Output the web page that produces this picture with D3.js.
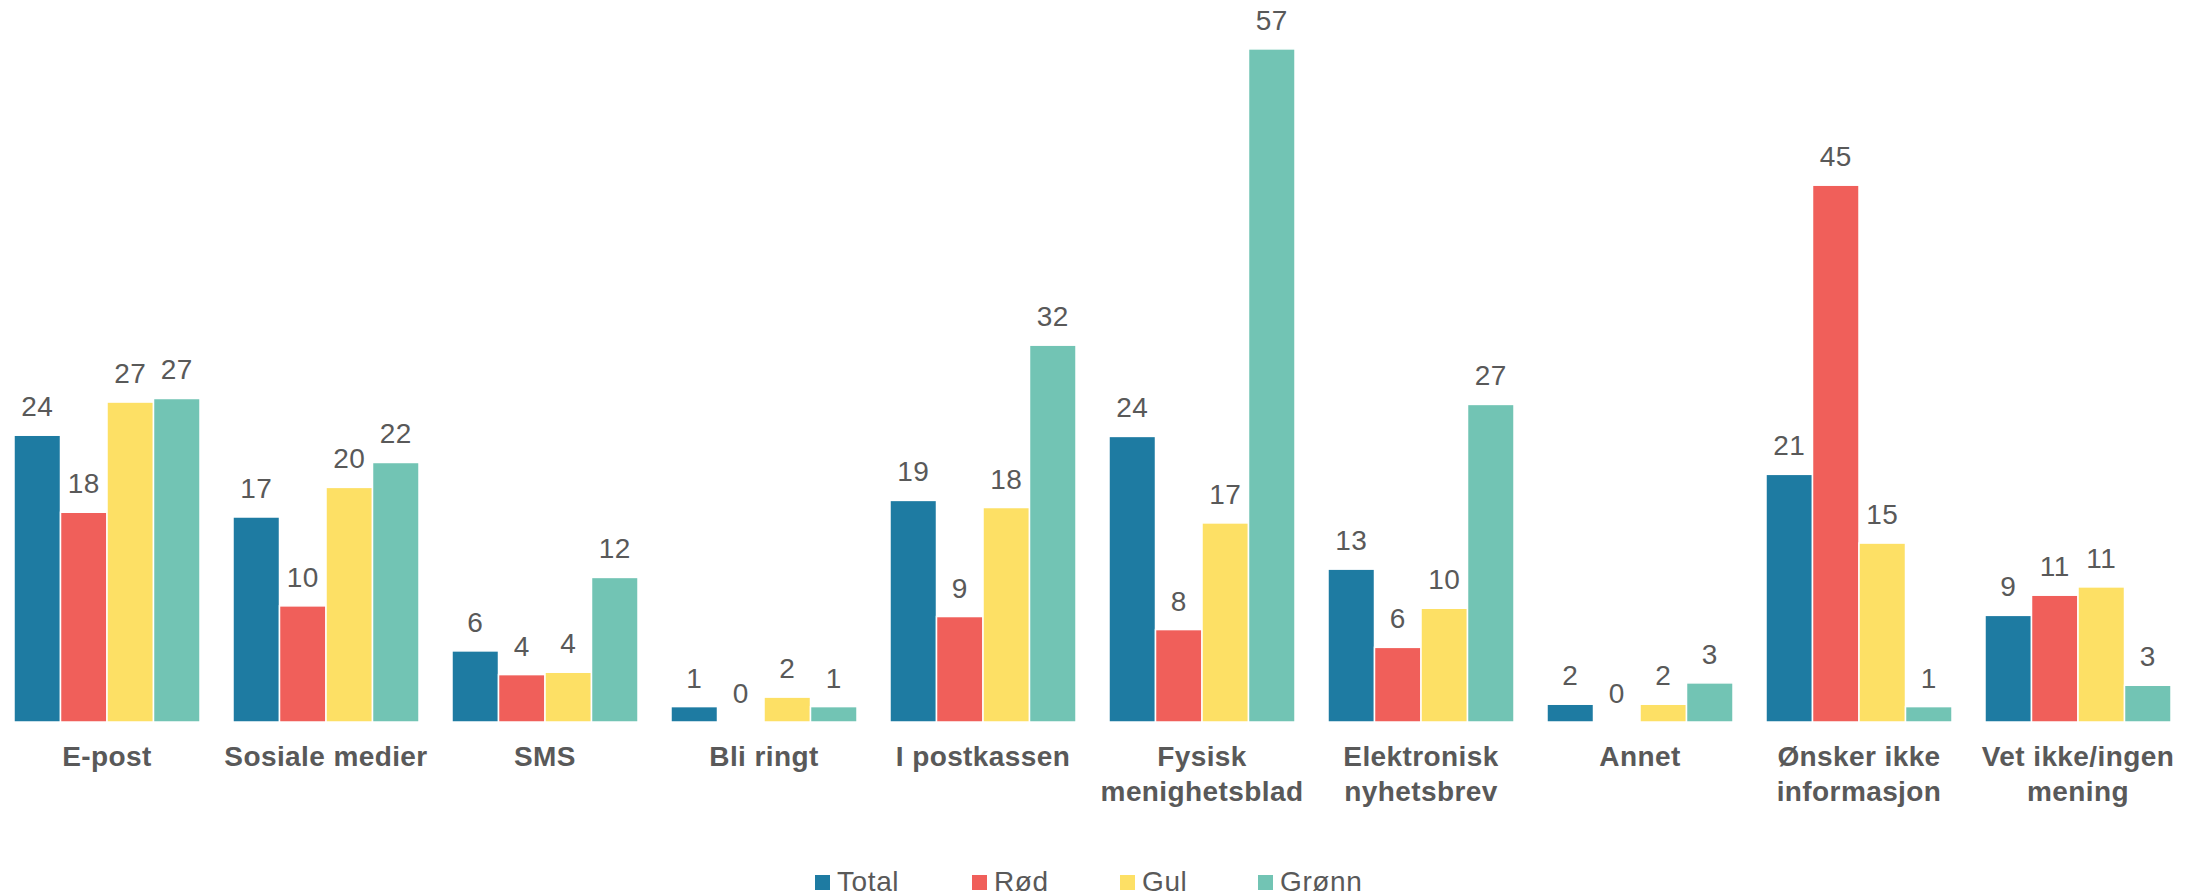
<!DOCTYPE html>
<html>
<head>
<meta charset="utf-8">
<script src="https://cdn.jsdelivr.net/npm/d3@7"></script>
<style>
  html, body { margin: 0; padding: 0; background: #fff; }
  svg { display: block; }
</style>
</head>
<body>
<svg id="chart" width="2203" height="896"></svg>
<script>
const categories = [
  ["E-post"],
  ["Sosiale medier"],
  ["SMS"],
  ["Bli ringt"],
  ["I postkassen"],
  ["Fysisk", "menighetsblad"],
  ["Elektronisk", "nyhetsbrev"],
  ["Annet"],
  ["Ønsker ikke", "informasjon"],
  ["Vet ikke/ingen", "mening"]
];
const seriesNames = ["Total", "Rød", "Gul", "Grønn"];
// values (percent); labels show them rounded
const total = [24.2, 17.3, 6.0, 1.3, 18.7, 24.1, 12.9, 1.5, 20.9, 9.0];
const rod   = [17.7, 9.8, 4.0, 0, 8.9, 7.8, 6.3, 0, 45.3, 10.7];
const gul   = [27.0, 19.8, 4.2, 2.1, 18.1, 16.8, 9.6, 1.5, 15.1, 11.4];
const gronn = [27.3, 21.9, 12.2, 1.3, 31.8, 56.8, 26.8, 3.3, 1.3, 3.1];
const colors = ["#1e7ba2", "#f05f5a", "#fde065", "#72c4b4"];

const series = [total, rod, gul, gronn];
const catKeys = categories.map(c => c.join(" "));

const svg = d3.select("#chart");
const baseline = 722;
const maxVal = 57;
const fontFam = "'Liberation Sans', Arial, sans-serif";

const x0 = d3.scaleBand()
  .domain(catKeys)
  .range([-2.5, 2187.5])
  .paddingInner(33 / 219)
  .paddingOuter(33 / 219 / 2);

const x1 = d3.scaleBand()
  .domain(seriesNames)
  .range([0, x0.bandwidth()])
  .padding(0);

const y = d3.scaleLinear()
  .domain([0, maxVal])
  .range([baseline, baseline - maxVal * 11.85]);

const data = [];
catKeys.forEach((c, i) => {
  seriesNames.forEach((s, j) => {
    data.push({ cat: c, s: s, v: series[j][i], color: colors[j] });
  });
});

const g = svg.append("g");

g.selectAll("rect.bar")
  .data(data)
  .join("rect")
  .attr("class", "bar")
  .attr("x", d => x0(d.cat) + x1(d.s))
  .attr("width", x1.bandwidth())
  .attr("y", d => y(d.v))
  .attr("height", d => y(0) - y(d.v))
  .attr("fill", d => d.color)
  .attr("stroke", "#ffffff")
  .attr("stroke-width", 1.5);

g.selectAll("text.val")
  .data(data)
  .join("text")
  .attr("class", "val")
  .attr("x", d => x0(d.cat) + x1(d.s) + x1.bandwidth() / 2)
  .attr("y", d => y(d.v) - 19)
  .attr("text-anchor", "middle")
  .attr("font-family", fontFam)
  .attr("font-size", 28)
  .attr("letter-spacing", 0.5)
  .attr("fill", "#595959")
  .text(d => d3.format(".0f")(d.v));

// category labels
const catG = g.selectAll("text.cat")
  .data(categories)
  .join("text")
  .attr("class", "cat")
  .attr("x", (d, i) => x0(catKeys[i]) + x0.bandwidth() / 2)
  .attr("y", 766)
  .attr("text-anchor", "middle")
  .attr("font-family", fontFam)
  .attr("font-size", 28)
  .attr("letter-spacing", 0.4)
  .attr("font-weight", "bold")
  .attr("fill", "#595959");

catG.selectAll("tspan")
  .data(d => d)
  .join("tspan")
  .attr("x", function () { return d3.select(this.parentNode).attr("x"); })
  .attr("dy", (d, i) => i === 0 ? 0 : 35)
  .text(d => d);

// legend
const legendX = [815, 972, 1120, 1258];
const leg = svg.append("g").selectAll("g")
  .data(seriesNames)
  .join("g")
  .attr("transform", (d, i) => `translate(${legendX[i]},0)`);

leg.append("rect")
  .attr("x", 0)
  .attr("y", 875)
  .attr("width", 15)
  .attr("height", 15)
  .attr("fill", (d, i) => colors[i]);

leg.append("text")
  .attr("x", 22)
  .attr("y", 891)
  .attr("font-family", fontFam)
  .attr("font-size", 28)
  .attr("letter-spacing", 0.6)
  .attr("fill", "#595959")
  .text(d => d);
</script>
</body>
</html>
